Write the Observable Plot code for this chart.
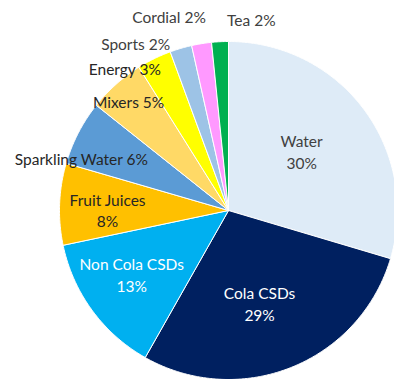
<!DOCTYPE html>
<html>
<head>
<meta charset="utf-8">
<script src="https://cdn.jsdelivr.net/npm/d3@7"></script>
<script src="https://cdn.jsdelivr.net/npm/@observablehq/plot@0.6"></script>
<style>
  html, body { margin: 0; padding: 0; background: #fff; }
  #chart svg { display: block; }
</style>
</head>
<body>
<div id="chart"></div>
<script>
// ---- data ----
const categories = ["Water", "Cola CSDs", "Non Cola CSDs", "Fruit Juices", "Sparkling Water", "Mixers", "Energy", "Sports", "Cordial", "Tea"];
const shares = [29.6, 28.6, 13.5, 7.8, 6.2, 5.4, 3.3, 2.1, 1.9, 1.6];
const labelTexts = ["Water\n30%", "Cola CSDs\n29%", "Non Cola CSDs\n13%", "Fruit Juices\n8%", "Sparkling Water 6%", "Mixers 5%", "Energy 3%", "Sports 2%", "Cordial 2%", "Tea 2%"];

// ---- styles / layout ----
const colors = ["#DEEBF7", "#002060", "#00B0F0", "#FFC000", "#5B9BD5", "#FFD966", "#FFFF00", "#9DC3E6", "#FF99FF", "#00B050"];
const textColors = ["#404040", "#FFFFFF", "#FFFFFF", "#262626", "#262626", "#262626", "#262626", "#404040", "#404040", "#404040"];
// label placement: angle (deg, clockwise from 12 o'clock) and distance as fraction of radius
const labelAngle = [51, 161.4, 236.6, 270.5, 289.7, 317.5, 324, 331, 343, 6.8];
const labelRadius = [0.56, 0.58, 0.69, 0.72, 0.93, 0.88, 1.05, 1.14, 1.21, 1.15];
const R = 169;
const W = 394, H = 379, CX = 228, CY = 210;

// ---- build slices ----
const total = d3.sum(shares);
const slicePts = [];
let acc = 0;
categories.forEach((c, i) => {
  const a0 = acc / total * 2 * Math.PI;
  acc += shares[i];
  const a1 = acc / total * 2 * Math.PI;
  const n = Math.max(2, Math.ceil((a1 - a0) / (Math.PI / 360)));
  slicePts.push({cat: c, x: 0, y: 0, color: colors[i]});
  for (let k = 0; k <= n; k++) {
    const a = a0 + (a1 - a0) * k / n;
    slicePts.push({cat: c, x: R * Math.sin(a), y: -R * Math.cos(a), color: colors[i]});
  }
  slicePts.push({cat: c, x: 0, y: 0, color: colors[i]});
});

const labels = categories.map((c, i) => {
  const a = labelAngle[i] * Math.PI / 180;
  const r = labelRadius[i] * 168;
  return {text: labelTexts[i], x: r * Math.sin(a), y: -r * Math.cos(a), color: textColors[i]};
});

const chart = Plot.plot({
  width: W,
  height: H,
  margin: 0,
  x: {domain: [-CX, W - CX], range: [0, W], axis: null},
  y: {domain: [-CY, H - CY], range: [0, H], axis: null},
  color: {type: "identity"},
  style: {fontFamily: "Lato, 'Open Sans', sans-serif", background: "#fff"},
  marks: [
    Plot.line(slicePts, {x: "x", y: "y", z: "cat", fill: "color", stroke: "#fff", strokeWidth: 1, curve: "linear-closed"}),
    Plot.text(labels, {x: "x", y: "y", text: "text", fill: "color", fontSize: 15.5, lineHeight: 1.4, textAnchor: "middle", lineAnchor: "middle"})
  ]
});
document.getElementById("chart").appendChild(chart);
</script>
</body>
</html>
